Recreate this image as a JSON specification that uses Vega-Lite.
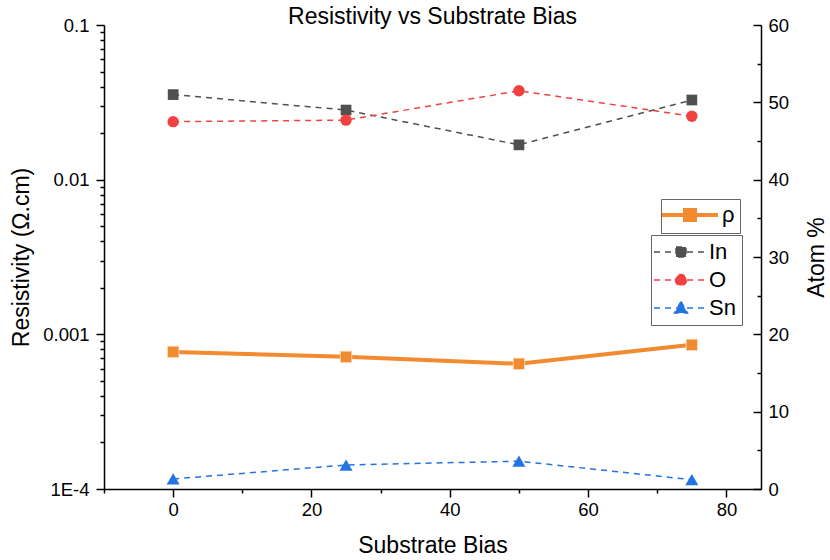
{
  "$schema": "https://vega.github.io/schema/vega-lite/v6.json",
  "width": 657,
  "height": 464,
  "autosize": {"type": "none"},
  "padding": {"left": 104, "top": 25, "right": 69, "bottom": 71},
  "background": "white",
  "config": {
    "font": "Liberation Sans",
    "view": {"stroke": null},
    "axis": {
      "grid": false,
      "labelFont": "Liberation Sans",
      "labelFontSize": 18.5,
      "labelColor": "black",
      "titleFont": "Liberation Sans",
      "titleFontSize": 23,
      "titleFontWeight": "normal",
      "titleColor": "black",
      "domainColor": "black",
      "domainWidth": 1.5,
      "tickColor": "black",
      "tickWidth": 1.5
    },
    "legend": {"labelFont": "Liberation Sans"}
  },
  "title": {
    "text": "Resistivity vs Substrate Bias",
    "fontSize": 23,
    "fontWeight": "normal",
    "font": "Liberation Sans",
    "color": "black",
    "anchor": "middle",
    "offset": -13
  },
  "datasets": {
    "resistivity": [
      {"bias": 0, "quantity": "ρ", "rho": 0.00077},
      {"bias": 25, "quantity": "ρ", "rho": 0.000715},
      {"bias": 50, "quantity": "ρ", "rho": 0.000645},
      {"bias": 75, "quantity": "ρ", "rho": 0.000855}
    ],
    "composition": [
      {"bias": 0, "element": "In", "atom": 51.0},
      {"bias": 25, "element": "In", "atom": 49.0},
      {"bias": 50, "element": "In", "atom": 44.5},
      {"bias": 75, "element": "In", "atom": 50.3},
      {"bias": 0, "element": "O", "atom": 47.5},
      {"bias": 25, "element": "O", "atom": 47.7},
      {"bias": 50, "element": "O", "atom": 51.5},
      {"bias": 75, "element": "O", "atom": 48.2},
      {"bias": 0, "element": "Sn", "atom": 1.3},
      {"bias": 25, "element": "Sn", "atom": 3.1},
      {"bias": 50, "element": "Sn", "atom": 3.6},
      {"bias": 75, "element": "Sn", "atom": 1.2}
    ]
  },
  "encoding": {
    "x": {
      "field": "bias",
      "type": "quantitative",
      "scale": {"domain": [-10, 85], "nice": false, "zero": false},
      "axis": {
        "orient": "bottom",
        "values": [-10, 0, 10, 20, 30, 40, 50, 60, 70, 80],
        "labelExpr": "datum.value % 20 === 0 ? toString(datum.value) : ''",
        "tickSize": {"condition": {"test": "datum.value % 20 === 0", "value": 8}, "value": 4},
        "labelPadding": 3,
        "title": "Substrate Bias",
        "titlePadding": 16
      }
    }
  },
  "layer": [
    {
      "data": {"name": "resistivity"},
      "mark": {
        "type": "line",
        "strokeWidth": 4,
        "point": {"shape": "square", "size": 130, "filled": true, "stroke": "#fde2c8", "strokeWidth": 0.8}
      },
      "encoding": {
        "y": {
          "field": "rho",
          "type": "quantitative",
          "scale": {"type": "log", "domain": [0.0001, 0.1], "nice": false},
          "axis": {
            "orient": "left",
            "values": [0.0001, 0.0002, 0.0003, 0.0004, 0.0005, 0.0006, 0.0007, 0.0008, 0.0009, 0.001, 0.002, 0.003, 0.004, 0.005, 0.006, 0.007, 0.008, 0.009, 0.01, 0.02, 0.03, 0.04, 0.05, 0.06, 0.07, 0.08, 0.09, 0.1],
            "labelExpr": "abs(log(datum.value) / LN10 - round(log(datum.value) / LN10)) > 0.001 ? '' : datum.value < 0.0005 ? '1E-4' : toString(datum.value)",
            "tickSize": {"condition": {"test": "abs(log(datum.value) / LN10 - round(log(datum.value) / LN10)) < 0.001", "value": 8}, "value": 4},
            "labelPadding": 7,
            "title": "Resistivity (Ω.cm)",
            "titlePadding": 9
          }
        },
        "color": {
          "field": "quantity",
          "type": "nominal",
          "scale": {"domain": ["ρ"], "range": ["#f28a30"]},
          "legend": {
            "orient": "none",
            "legendX": 557,
            "legendY": 174,
            "title": null,
            "padding": 5,
            "strokeColor": "#666666",
            "fillColor": "white",
            "labelFontSize": 22,
            "labelColor": "black",
            "symbolType": "M-5.6,0H5.6M-1,-1H1V1H-1Z",
            "symbolSize": 100,
            "symbolStrokeWidth": 4,
            "symbolFillColor": "#f28a30",
            "symbolOffset": 13,
            "labelOffset": 21
          }
        }
      }
    },
    {
      "data": {"name": "composition"},
      "encoding": {
        "y": {
          "field": "atom",
          "type": "quantitative",
          "scale": {"domain": [0, 60], "nice": false, "zero": true},
          "axis": {
            "orient": "right",
            "values": [0, 5, 10, 15, 20, 25, 30, 35, 40, 45, 50, 55, 60],
            "labelExpr": "datum.value % 10 === 0 ? toString(datum.value) : ''",
            "tickSize": {"condition": {"test": "datum.value % 10 === 0", "value": -8}, "value": -4},
            "labelPadding": 15,
            "title": "Atom %",
            "titleAngle": 270,
            "titleBaseline": "top",
            "titlePadding": 17
          }
        }
      },
      "layer": [
        {
          "mark": {"type": "line", "strokeWidth": 1.5, "strokeDash": [6, 5]},
          "encoding": {
            "color": {
              "field": "element",
              "type": "nominal",
              "scale": {"domain": ["In", "O", "Sn"], "range": ["#505050", "#f24141", "#2274e0"]},
              "legend": {
                "orient": "none",
                "legendX": 547,
                "legendY": 210,
                "title": null,
                "padding": 6,
                "strokeColor": "#666666",
                "fillColor": "white",
                "labelFontSize": 22,
                "labelColor": "black",
                "rowPadding": 6,
                "symbolSize": 100,
                "symbolStrokeWidth": 1.5,
                "symbolDash": [6, 5],
                "symbolType": {"expr": "datum.value === 'In' ? 'M-5.4,0H5.4M-1,-1H1V1H-1Z' : datum.value === 'O' ? 'M-5.4,0H5.4M-1.1,0A1.1,1.1 0 1,0 1.1,0A1.1,1.1 0 1,0 -1.1,0Z' : 'M-5.4,0H5.4M0,-1.3L1.3,1L-1.3,1Z'"},
                "symbolFillColor": {"expr": "datum.value === 'In' ? '#505050' : datum.value === 'O' ? '#f24141' : '#2274e0'"},
                "symbolOffset": 13,
                "labelOffset": 17
              }
            }
          }
        },
        {
          "transform": [{"filter": "datum.element === 'In'"}],
          "mark": {"type": "point", "shape": "square", "filled": true, "opacity": 1, "size": 115, "color": "#505050"}
        },
        {
          "transform": [{"filter": "datum.element === 'O'"}],
          "mark": {"type": "point", "shape": "circle", "filled": true, "opacity": 1, "size": 130, "color": "#f24141"}
        },
        {
          "transform": [{"filter": "datum.element === 'Sn'"}],
          "mark": {"type": "point", "shape": "triangle-up", "filled": true, "opacity": 1, "size": 170, "color": "#2274e0"}
        }
      ]
    }
  ],
  "resolve": {
    "scale": {"y": "independent", "color": "independent"},
    "axis": {"y": "independent"},
    "legend": {"color": "independent"}
  }
}
